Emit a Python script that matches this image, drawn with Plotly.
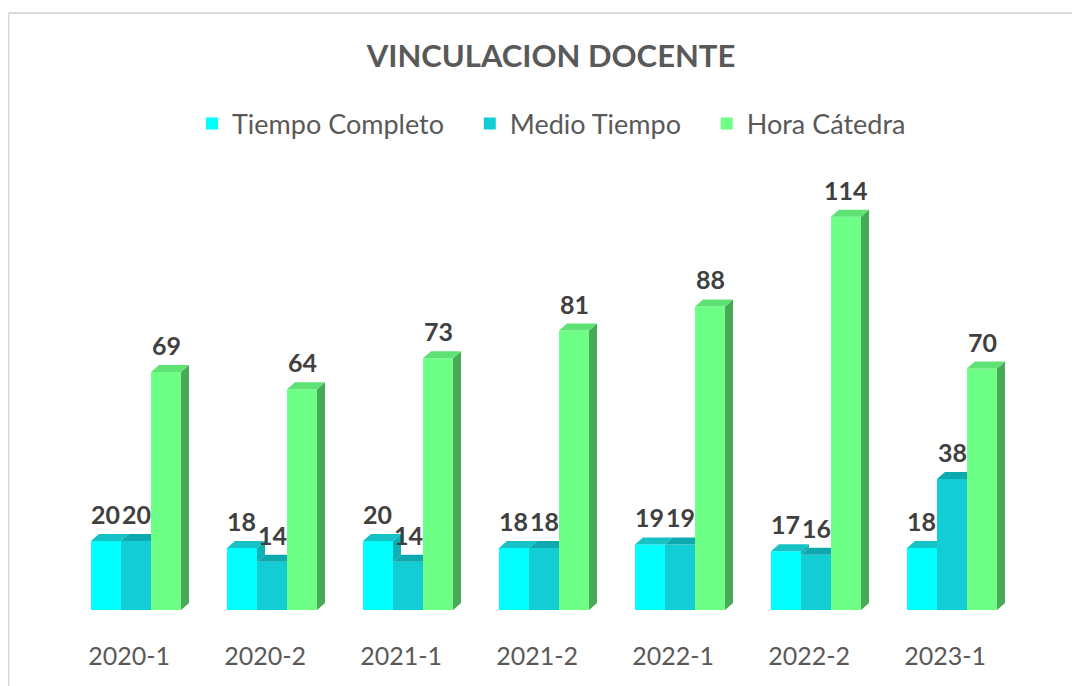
import plotly.graph_objects as go

# ---------------- data ----------------
categories = ["2020-1", "2020-2", "2021-1", "2021-2", "2022-1", "2022-2", "2023-1"]
tiempo_completo = [20, 18, 20, 18, 19, 17, 18]
medio_tiempo = [20, 14, 14, 18, 19, 16, 38]
hora_catedra = [69, 64, 73, 81, 88, 114, 70]
series_names = ["Tiempo Completo", "Medio Tiempo", "Hora Cátedra"]

# ---------------- style ----------------
OFF = 8  # page body margin added by the html page
W, H = 1080 - OFF, 686 - OFF
ML, MR, MT, MB = 60, 60, 142, 76
PLOT_W = W - ML - MR
PLOT_H = H - MT - MB
PX_PER_X = PLOT_W / len(categories)
PX_PER_Y = 3.45
Y_MAX = PLOT_H / PX_PER_Y
BARGAP = 0.338
BAR_W = (1 - BARGAP) / 3
DX = 8 / PX_PER_X
DY = 7 / PX_PER_Y

FONT = "Lato, Carlito, Calibri, sans-serif"
front_cols = ["#00FFFF", "#12CDD3", "#6EFF86"]
top_cols = ["#17C2C6", "#0EA9AE", "#5EE273"]
side_cols = ["#0DB1B5", "#0B989C", "#48A957"]

all_series = [tiempo_completo, medio_tiempo, hora_catedra]
xs = list(range(len(categories)))

fig = go.Figure()

# front faces
for s, (name, vals) in enumerate(zip(series_names, all_series)):
    fig.add_trace(go.Bar(
        x=xs, y=vals, name=name + "\u00a0\u00a0\u00a0",
        marker=dict(color=front_cols[s], line=dict(width=0)),
        hoverinfo="skip",
    ))

# side and top faces (3D effect) computed from the data
for s, vals in enumerate(all_series):
    side_x, side_y, top_x, top_y = [], [], [], []
    for i, v in enumerate(vals):
        x0 = i + (s - 1.5) * BAR_W
        x1 = x0 + BAR_W
        nxt = all_series[s + 1][i] if s < 2 else None
        # side face
        if nxt is None:
            side_x += [x1, x1 + DX, x1 + DX, x1, x1, None]
            side_y += [0, DY, v + DY, v, 0, None]
        elif nxt < v:
            side_x += [x1, x1, x1 + DX, x1 + DX, x1, None]
            side_y += [nxt, v, v + DY, nxt + DY, nxt, None]
        # top face
        if nxt is not None and nxt > v:
            top_x += [x0, x1, x1, x0 + DX, x0, None]
            top_y += [v, v, v + DY, v + DY, v, None]
        else:
            top_x += [x0, x1, x1 + DX, x0 + DX, x0, None]
            top_y += [v, v, v + DY, v + DY, v, None]
    if side_x:
        fig.add_trace(go.Scatter(x=side_x, y=side_y, mode="lines", fill="toself",
                                 fillcolor=side_cols[s], line=dict(width=0, color=side_cols[s]),
                                 showlegend=False, hoverinfo="skip"))
    fig.add_trace(go.Scatter(x=top_x, y=top_y, mode="lines", fill="toself",
                             fillcolor=top_cols[s], line=dict(width=0, color=top_cols[s]),
                             showlegend=False, hoverinfo="skip"))

# data labels
annotations = []
for s, vals in enumerate(all_series):
    for i, v in enumerate(vals):
        xc = i + (s - 1) * BAR_W
        annotations.append(dict(
            x=xc, y=v, xref="x", yref="y", text=str(v), showarrow=False,
            yshift=27, yanchor="middle",
            font=dict(family=FONT, size=25, color="#404040", weight="bold"),
        ))


def page_x(px):
    return (px - OFF - ML) / PLOT_W


def page_y(py):
    return (H - MB - (py - OFF)) / PLOT_H


border = dict(color="#D9D9D9", width=2)
shapes = [
    dict(type="line", xref="paper", yref="paper",
         x0=page_x(OFF + 0.5), x1=page_x(OFF + 0.5),
         y0=page_y(690), y1=page_y(13), line=border),
    dict(type="line", xref="paper", yref="paper",
         x0=page_x(OFF + 0.5), x1=page_x(1090),
         y0=page_y(13), y1=page_y(13), line=border),
]

fig.update_layout(
    width=W, height=H,
    margin=dict(l=ML, r=MR, t=MT, b=MB),
    paper_bgcolor="white", plot_bgcolor="white",
    barmode="group", bargap=BARGAP, bargroupgap=0,
    title=dict(text="VINCULACION DOCENTE", x=(551 - OFF) / W, xanchor="center",
               y=1 - (56 - OFF) / H, yanchor="middle", xref="container", yref="container",
               font=dict(family=FONT, size=31, color="#595959", weight="bold")),
    legend=dict(orientation="h", x=page_x(562), xanchor="center",
                y=page_y(124), yanchor="middle",
                font=dict(family=FONT, size=27, color="#595959"),
                bgcolor="rgba(0,0,0,0)"),
    xaxis=dict(range=[-0.5, len(categories) - 0.5],
               tickvals=[i - 0.05 for i in xs], ticktext=categories,
               showgrid=False, zeroline=False, showline=False, ticks="",
               ticklabelstandoff=29,
               tickfont=dict(family=FONT, size=25, color="#595959")),
    yaxis=dict(range=[0, Y_MAX], visible=False, showgrid=False, zeroline=False),
    annotations=annotations,
    shapes=shapes,
    showlegend=True,
)

fig.write_html("out.html")
